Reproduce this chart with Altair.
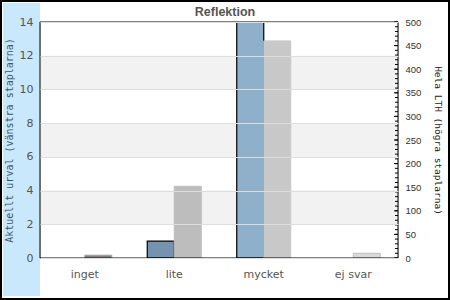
import altair as alt
import pandas as pd

title_text = ["Reflektion"]
categories = ["inget", "lite", "mycket", "ej svar"]
aktuellt = [0, 1, 14, 0]          # left axis (Aktuellt urval)
hela = [6, 152, 460, 10]          # right axis (Hela LTH)
left_colors = ["#7593ae", "#7593ae", "#8fb0cb", "#8fb0cb"]
right_fill = ["#808080", "#bdbdbd", "#c8c8c8", "#d9d9d9"]
right_stroke = ["#a8a8a8", "#bdbdbd", "#c8c8c8", "#c0c0c0"]
band_lo = [2, 6, 10]
band_hi = [4, 8, 12]
left_ticks = [0, 2, 4, 6, 8, 10, 12, 14]
right_major = [0, 50, 100, 150, 200, 250, 300, 350, 400, 450, 500]
right_minor = [v for v in range(0, 501, 10)]

W, H = 358, 236

df = pd.DataFrame({"cat": categories, "akt": aktuellt, "hela": hela})
bands = pd.DataFrame({"lo": band_lo, "hi": band_hi})
minor = pd.DataFrame({"v": right_minor})
major = pd.DataFrame({"v": right_major})
one = pd.DataFrame({"a": [0]})
tdf = pd.DataFrame({"t": title_text})

xenc = alt.X("cat:N", sort=categories,
             scale=alt.Scale(paddingInner=0, paddingOuter=0),
             axis=alt.Axis(title=None, ticks=False, domain=False, labelAngle=0,
                           labelPadding=10, labelFontSize=11, labelFont="DejaVu Sans",
                           labelColor="#555555"))

yleft_scale = alt.Scale(domain=[0, 14], nice=False)
yright_scale = alt.Scale(domain=[0, 500], nice=False)

left_axis = alt.Axis(title="Aktuellt urval (vänstra staplarna)", values=left_ticks,
                     labelOverlap=False,
                     grid=True, gridColor="#dddddd", ticks=False, domain=False,
                     labelPadding=7, labelFontSize=11, labelFont="DejaVu Sans",
                     labelColor="#555555", titleFont="DejaVu Sans Mono",
                     titleFontSize=10, titleFontWeight="normal", titleColor="#3d5570",
                     titlePadding=5, zindex=1)
right_axis = alt.Axis(title="Hela LTH (högra staplarna)", values=right_major,
                      labelOverlap=False,
                      grid=False, ticks=False, domain=False, labelPadding=7,
                      labelFontSize=9.5, labelFont="Liberation Sans",
                      labelColor="#333333", titleFont="DejaVu Sans Mono",
                      titleFontSize=9.5, titleFontWeight="normal",
                      titleColor="#222222", titlePadding=12)

blue = alt.Chart(one).mark_rect(color="#c9e8fc").encode(
    x=alt.value(-37), x2=alt.value(0), y=alt.value(-19), y2=alt.value(274))

border = alt.Chart(one).mark_rect(fill=None, stroke="black", strokeWidth=2).encode(
    x=alt.value(-39), x2=alt.value(409), y=alt.value(-21), y2=alt.value(277))

frame = alt.Chart(one).mark_rect(fill=None, stroke="black", strokeWidth=1).encode(
    x=alt.value(0), x2=alt.value(W), y=alt.value(0), y2=alt.value(H))

title = alt.Chart(tdf).mark_text(font="Liberation Sans", fontSize=12.5, fontWeight="bold",
                                 color="#555555", baseline="alphabetic",
                                 align="center").encode(
    text="t:N", x=alt.value(185), y=alt.value(-6))

band_layer = alt.Chart(bands).mark_rect(color="#f2f2f2").encode(
    x=alt.value(0), x2=alt.value(W),
    y=alt.Y("lo:Q", scale=yleft_scale, axis=left_axis),
    y2="hi:Q")

left_bars = alt.Chart(df).transform_filter("datum.akt > 0").mark_bar(
    width=27, xOffset=-13.5, stroke="black", strokeWidth=1.2, clip=True).encode(
    x=xenc,
    y=alt.Y("akt:Q", scale=yleft_scale, axis=left_axis),
    color=alt.Color("cat:N", scale=alt.Scale(domain=categories, range=left_colors),
                    legend=None))

right_bars = alt.Chart(df).mark_bar(width=27, xOffset=13.5, strokeWidth=1).encode(
    x=xenc,
    y=alt.Y("hela:Q", scale=yright_scale, axis=right_axis),
    fill=alt.Fill("cat:N", scale=alt.Scale(domain=categories, range=right_fill),
                  legend=None),
    stroke=alt.Stroke("cat:N", scale=alt.Scale(domain=categories, range=right_stroke),
                      legend=None))

minor_ticks = alt.Chart(minor).mark_rule(color="black", strokeWidth=1).encode(
    x=alt.value(W - 3), x2=alt.value(W),
    y=alt.Y("v:Q", scale=yright_scale, axis=right_axis))
major_ticks = alt.Chart(major).mark_rule(color="black", strokeWidth=1).encode(
    x=alt.value(W - 4), x2=alt.value(W),
    y=alt.Y("v:Q", scale=yright_scale, axis=right_axis))

left = alt.layer(blue, band_layer, left_bars)
right = alt.layer(right_bars, minor_ticks, major_ticks, frame, border, title)

chart = alt.layer(left, right).resolve_scale(
    y="independent", fill="independent", stroke="independent", color="independent"
).properties(
    width=W, height=H,
    autosize=alt.AutoSizeParams(type="none"),
    padding={"left": 40, "top": 22, "right": 52, "bottom": 42},
).configure_view(stroke=None).configure(background="white")

chart.save("out.html", embed_options={"renderer": "svg", "actions": False})
